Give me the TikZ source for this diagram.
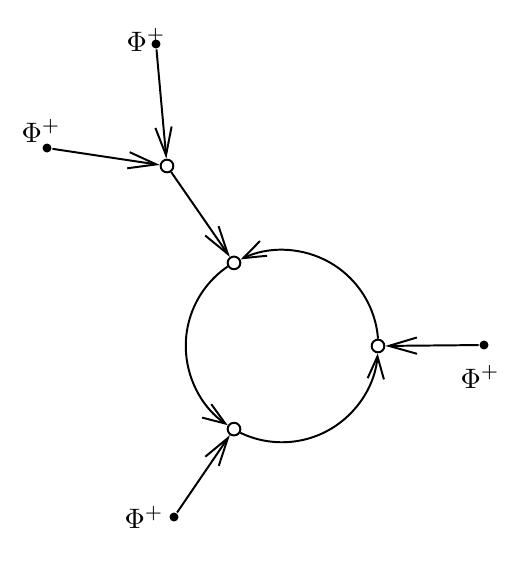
\documentclass[tikz,border=0pt]{standalone}
\usetikzlibrary{arrows.meta}

\begin{document}
\begin{tikzpicture}[x=0.0125cm,y=-0.0125cm,line width=0.7pt,
  >={Straight Barb[length=10pt,width=5.8pt,line width=0.7pt]},
  ext/.style={circle,fill,inner sep=0pt,minimum size=3.2pt},
  vtx/.style={circle,draw,fill=white,inner sep=0pt,minimum size=4.5pt},
  lab/.style={inner sep=0pt},
  loop/.style={-{Straight Barb[length=8pt,width=5.8pt,line width=0.7pt]},radius=96}]
  \useasboundingbox (0,0) rectangle (511,562);
  \node[vtx] (vA) at (167,166) {};
  \node[vtx] (vT) at (234,262.9) {};
  \node[vtx] (vR) at (378,346) {};
  \node[vtx] (vB) at (234,429.1) {};
  \node[ext] (pA) at (156,44) {};
  \node[ext] (pL) at (47,148) {};
  \node[ext] (pR) at (484,345) {};
  \node[ext] (pB) at (174,517) {};
  \node[lab] (lA) at (146,40) {$\Phi^+$};
  \node[lab] (lL) at (41,131) {$\Phi^+$};
  \node[lab] (lR) at (480,377) {$\Phi^+$};
  \node[lab] (lB) at (144,517) {$\Phi^+$};
  \draw[->] (pA) -- (vA);
  \draw[->] (pL) -- (vA);
  \draw[->] (vA) -- (vT);
  \draw[->] (pR) -- (vR);
  \draw[->] (pB) -- (vB);
  % loop, centre (282,346)
  \draw[loop] (vR.90) arc[start angle=-4.3,end angle=-115.7];
  \draw[loop] (vT.210) arc[start angle=-124.3,end angle=-235.7];
  \draw[loop] (vB.330) arc[start angle=-244.3,end angle=-355.7];
\end{tikzpicture}
\end{document}
